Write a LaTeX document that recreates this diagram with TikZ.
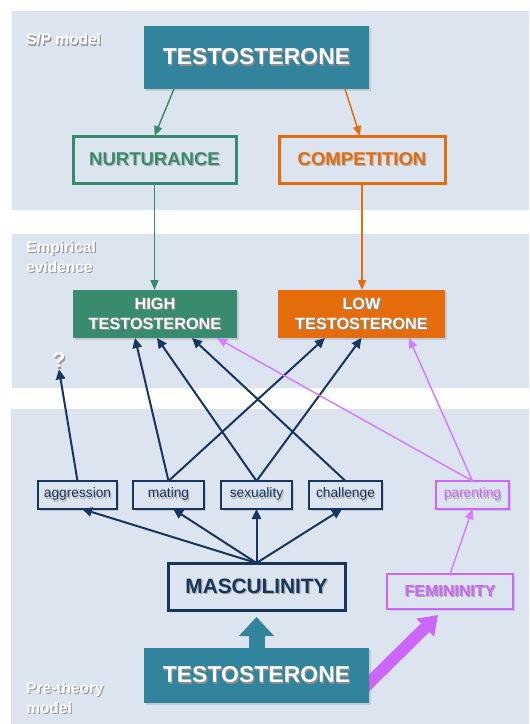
\documentclass[tikz,border=0pt]{standalone}
\usepackage{fontspec}
\setmainfont{Liberation Sans}
\usetikzlibrary{arrows.meta,shadows,backgrounds,calc}
\definecolor{cPanel}{HTML}{DCE4F0}
\definecolor{cTeal}{HTML}{31849B}
\definecolor{cGreen}{HTML}{388B6D}
\definecolor{cOrange}{HTML}{E46C0A}
\definecolor{cNavy}{HTML}{17365D}
\definecolor{cPurple}{HTML}{CC66FF}
\newcommand\shtx[2][black!45]{\rlap{\kern0.9pt\raisebox{-0.9pt}{\textcolor{#1}{#2}}}#2}
\newcommand\fs[1]{\fontsize{#1}{#1}\selectfont}
\begin{document}
\begin{tikzpicture}[x=0.75pt,y=-0.75pt,
  box/.style={inner sep=0pt, outer sep=0pt, align=center},
  shd/.style={drop shadow={shadow xshift=1.2pt, shadow yshift=-1.2pt, opacity=0.25}},
  tealbox/.style={box, shd, fill=cTeal, text=white, minimum width=168.75pt},
  small/.style={box, shd, fill=cPanel, draw=cNavy, line width=0.8pt, text=cNavy, minimum height=21pt, font=\fs{10.3}},
  lbl/.style={inner sep=0pt, text=white, align=left, font=\bfseries\fontsize{11.6}{15}\selectfont},
  navyarr/.style={draw=cNavy, line width=1.5pt, -{Triangle[length=7.5pt,width=7pt]}},
  purarr/.style={draw=cPurple!85!white, line width=1.1pt, -{Triangle[length=7.5pt,width=6.5pt]}},
]
\useasboundingbox (0,0) rectangle (529,724);
\begin{scope}[on background layer]
  \fill[cPanel] (12,11) rectangle (529,210);
  \fill[cPanel] (12,234) rectangle (529,388);
  \fill[cPanel] (11,409) rectangle (529,724);
\end{scope}

% labels
\node[lbl, anchor=west] (lsp) at (26,40) {\shtx[black!40]{S/P model}};
\node[lbl, anchor=north west] (lemp) at (26,241) {\shtx[black!40]{Empirical}\\\shtx[black!40]{evidence}};
\node[lbl, anchor=north west] (lpre) at (26,682) {\shtx[black!40]{Pre-theory}\\\shtx[black!40]{model}};
\node[lbl, font=\bfseries\fs{16}] (q) at (59,361) {\shtx[black!40]{?}};

% S/P model
\node[tealbox, minimum height=47.25pt, font=\bfseries\fs{17.25}] (ttop) at (256.5,57.5) {\shtx{TESTOSTERONE}};
\node[box, shd, fill=cPanel, draw=cGreen, line width=2.25pt, text=cGreen, minimum width=122.25pt, minimum height=35.25pt, font=\bfseries\fs{13.9}] (nurt) at (154.5,159.5) {\shtx[black!30]{NURTURANCE}};
\node[box, shd, fill=cPanel, draw=cOrange, line width=2.25pt, text=cOrange, minimum width=124.5pt, minimum height=35.25pt, font=\bfseries\fs{13.9}] (comp) at (362,159.5) {\shtx[black!30]{COMPETITION}};

% Empirical
\node[box, shd, fill=cGreen, text=white, minimum width=123pt, minimum height=36pt, font=\bfseries\fontsize{12.2}{15}\selectfont] (high) at (155,314) {\shtx{HIGH}\\\shtx{TESTOSTERONE}};
\node[box, shd, fill=cOrange, text=white, minimum width=125.25pt, minimum height=36pt, font=\bfseries\fontsize{12.2}{15}\selectfont] (low) at (361.5,314) {\shtx{LOW}\\\shtx{TESTOSTERONE}};

% Pre-theory
\node[small, minimum width=59.25pt] (aggr) at (77.5,495) {\shtx[black!30]{aggression}};
\node[small, minimum width=53.25pt] (mat) at (168.5,495) {\shtx[black!30]{mating}};
\node[small, minimum width=53.25pt] (sex) at (256.5,495) {\shtx[black!30]{sexuality}};
\node[small, minimum width=54.75pt] (chal) at (345.5,495) {\shtx[black!30]{challenge}};
\node[small, draw=cPurple, text=cPurple, minimum width=54.75pt] (par) at (472.5,495) {\shtx[black!30]{parenting}};
\node[box, shd, fill=cPanel, draw=cNavy, line width=2.25pt, text=cNavy, minimum width=132.75pt, minimum height=35.25pt, font=\bfseries\fs{15.6}] (masc) at (256.5,586.5) {\shtx[black!35]{MASCULINITY}};
\node[box, shd, fill=cPanel, draw=cPurple, line width=1.5pt, text=cPurple, minimum width=94.5pt, minimum height=26.25pt, font=\bfseries\fs{12}] (fem) at (450,591.5) {\shtx[black!35]{FEMININITY}};
\node[tealbox, minimum height=41.25pt, font=\bfseries\fs{17.25}] (tbot) at (256.5,675.5) {\shtx{TESTOSTERONE}};

% S/P arrows
\draw[cGreen, line width=1.1pt, -{Triangle[length=7.5pt,width=6pt]}] ([xshift=-61.9pt]ttop.south) -- (nurt.north);
\draw[cOrange, line width=1.1pt, -{Triangle[length=7.5pt,width=6pt]}] ([xshift=66.4pt]ttop.south) -- ([xshift=-1.5pt]comp.north);
\draw[cGreen, line width=1.1pt, -{Triangle[length=7.5pt,width=6pt]}] (nurt.south) -- (nurt.south |- high.north);
\draw[cOrange, line width=1.1pt, -{Triangle[length=7.5pt,width=6pt]}] (comp.south) -- (comp.south |- low.north);

% masculinity arrows
\draw[navyarr] (masc.north) -- ([xshift=3.4pt]aggr.south);
\draw[navyarr] (masc.north) -- ([xshift=3.4pt]mat.south);
\draw[navyarr] (masc.north) -- (sex.south);
\draw[navyarr] (masc.north) -- ([xshift=-2.6pt]chal.south);

% upward arrows
\draw[navyarr] (aggr.north) -- (q.south);
\draw[navyarr] (mat.north) -- ([xshift=-15pt]high.south);
\draw[navyarr] (mat.north) -- ([xshift=-27.4pt]low.south);
\draw[navyarr] (sex.north) -- ([xshift=1.5pt]high.south);
\draw[navyarr] (sex.north) -- (low.south);
\draw[navyarr] (chal.north) -- ([xshift=27.75pt]high.south);
\draw[purarr] (par.north) -- ([xshift=46.5pt]high.south);
\draw[purarr] (par.north) -- ([xshift=35.6pt]low.south);
\draw[purarr] (fem.north) -- (par.south);

% block arrows
\draw[cTeal, line width=12pt, -{Triangle[length=14.25pt,width=25.5pt]}] (tbot.north) -- ([yshift=-5.25pt]masc.south);
\begin{scope}[on background layer]
\draw[cPurple, line width=9pt, -{Triangle[length=13.5pt,width=18pt]}] ([xshift=-3.75pt,yshift=-9.4pt]tbot.east) -- ([xshift=38.25pt,yshift=-4.5pt]fem.south west);
\end{scope}
\end{tikzpicture}
\end{document}
